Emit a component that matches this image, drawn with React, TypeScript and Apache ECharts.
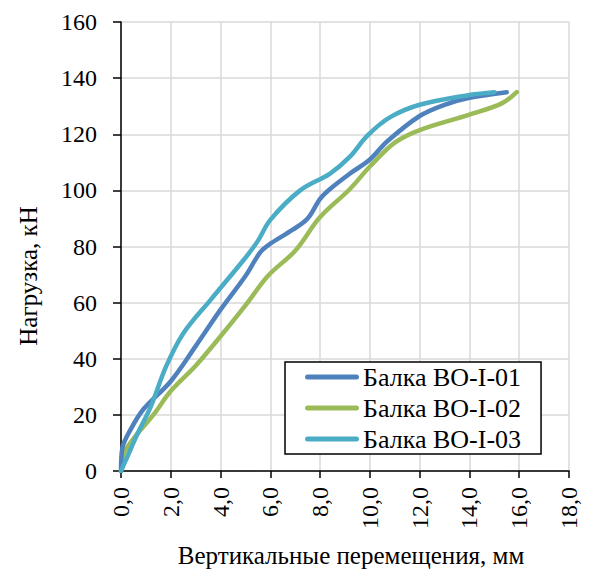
import React, { useEffect, useRef } from "react";
import * as echarts from "echarts";

// Load–deflection curves of the three tested beams: [deflection, mm; load, kN]
const beam01: [number, number][] = [
  [0, 0], [0.05, 8], [0.4, 15], [0.9, 22], [2.0, 32], [3.0, 44.5], [4.0, 57.5],
  [5.0, 69.5], [5.6, 78], [6.0, 81], [6.9, 86], [7.5, 90], [8.0, 97], [8.4, 100.5],
  [9.2, 106], [10.0, 111], [10.7, 117.5], [12.0, 126.5], [13.0, 130.5], [14.0, 133],
  [15.5, 135],
];

const beam02: [number, number][] = [
  [0, 0], [0.1, 6], [0.5, 11.5], [1.3, 20], [2.0, 28.5], [3.0, 37.5], [4.0, 48],
  [5.0, 59], [5.9, 69.5], [7.0, 78.5], [8.0, 90.5], [9.2, 100.5], [10.0, 108.5],
  [11.0, 117], [12.0, 121.5], [14.0, 127], [15.3, 131], [15.9, 135],
];

const beam03: [number, number][] = [
  [0, 0], [0.25, 5], [0.65, 13], [1.2, 23], [1.8, 37], [2.5, 49], [3.6, 61],
  [5.0, 76], [5.5, 82], [6.0, 89.5], [7.2, 100], [8.4, 106], [9.2, 112],
  [9.9, 119.5], [10.8, 126], [12.0, 130.5], [14.0, 134], [15.0, 135],
];

const seriesNames = ["Балка BO-I-01", "Балка BO-I-02", "Балка BO-I-03"];
const seriesColors = ["#4f81bd", "#9bbb59", "#4bacc6"];
const xTitle = "Вертикальные перемещения, мм";
const yTitle = "Нагрузка, кН";

const FONT = "Liberation Serif";

// Legend key: a short thick stroke with rounded ends
const legendKey =
  "path://M2.5,0 L51.5,0 A2.5,2.5 0 0 1 51.5,5 L2.5,5 A2.5,2.5 0 0 1 2.5,0 Z";

export default function App() {
  const ref = useRef<HTMLDivElement>(null);

  useEffect(() => {
    if (!ref.current) return;
    const chart = echarts.init(ref.current, null, { renderer: "svg" });
    const datasets = [beam01, beam02, beam03];

    chart.setOption({
      animation: false,
      backgroundColor: "#ffffff",
      textStyle: { fontFamily: FONT },
      grid: { left: 121, right: 27, top: 22, bottom: 101, containLabel: false },
      xAxis: {
        type: "value",
        min: 0,
        max: 18,
        interval: 2,
        axisLine: { show: true, onZero: false, lineStyle: { color: "#000", width: 1.5 } },
        axisTick: { show: true, inside: false, length: 7, lineStyle: { color: "#000", width: 1.5 } },
        axisLabel: {
          rotate: 90,
          margin: 16,
          color: "#000",
          fontSize: 24,
          fontFamily: FONT,
          formatter: (v: number) => v.toFixed(1).replace(".", ","),
        },
        splitLine: { show: true, lineStyle: { color: "#d9d9d9", width: 1.5 } },
      },
      yAxis: {
        type: "value",
        min: 0,
        max: 160,
        interval: 20,
        axisLine: { show: true, onZero: false, lineStyle: { color: "#000", width: 1.5 } },
        axisTick: { show: true, inside: false, length: 8, lineStyle: { color: "#000", width: 1.5 } },
        axisLabel: { margin: 24, color: "#000", fontSize: 24, fontFamily: FONT },
        splitLine: { show: true, lineStyle: { color: "#d9d9d9", width: 1.5 } },
      },
      legend: {
        show: true,
        orient: "vertical",
        left: 285,
        top: 362,
        padding: [2, 20, 2, 20],
        itemGap: 5,
        itemWidth: 54,
        itemHeight: 5,
        borderColor: "#000",
        borderWidth: 1.5,
        borderRadius: 0,
        backgroundColor: "#fff",
        textStyle: {
          color: "#000",
          fontSize: 26,
          lineHeight: 26,
          fontFamily: FONT,
          padding: [0, 0, 0, -1],
        },
        data: seriesNames.map((n, i) => ({
          name: n,
          icon: legendKey,
          itemStyle: { color: seriesColors[i] },
        })),
      },
      series: datasets.map((d, i) => ({
        type: "line",
        name: seriesNames[i],
        data: d,
        smooth: 0.35,
        symbol: "none",
        showSymbol: false,
        color: seriesColors[i],
        lineStyle: { color: seriesColors[i], width: 4.5, cap: "round", join: "round" },
        z: i === 1 ? 2 : 3,
      })),
      graphic: [
        {
          type: "text",
          x: 351,
          y: 555,
          style: {
            text: xTitle,
            fill: "#000",
            fontSize: 25,
            fontFamily: FONT,
            align: "center",
            verticalAlign: "middle",
          },
        },
        {
          type: "text",
          x: 28,
          y: 276,
          rotation: Math.PI / 2,
          style: {
            text: yTitle,
            fill: "#000",
            fontSize: 25,
            fontFamily: FONT,
            align: "center",
            verticalAlign: "middle",
          },
        },
      ],
    });

    return () => chart.dispose();
  }, []);

  return (
    <div
      ref={ref}
      style={{ position: "absolute", left: 0, top: 0, width: 596, height: 572 }}
    />
  );
}
